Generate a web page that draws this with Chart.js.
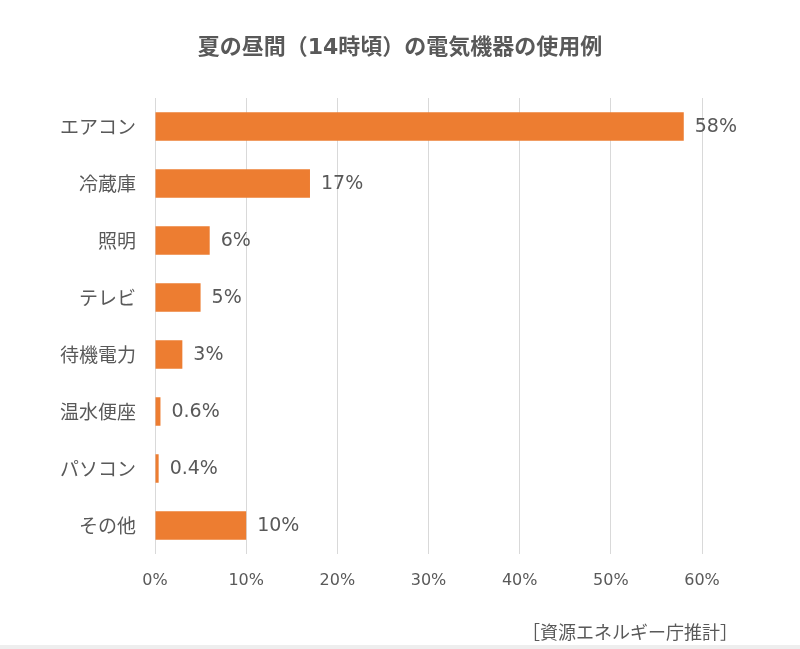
<!DOCTYPE html>
<html>
<head>
<meta charset="utf-8">
<script src="https://cdn.jsdelivr.net/npm/chart.js@4.4.1/dist/chart.umd.min.js"></script>
<style>
  html, body { margin: 0; padding: 0; background: #fff; }
  body { width: 800px; height: 649px; position: relative; overflow: hidden;
         font-family: "Noto Sans CJK JP", "Noto Sans", sans-serif; }
  #wrap { position: absolute; left: 0; top: 0; width: 800px; height: 645px; }
  #source { position: absolute; right: 62px; top: 618px; font-size: 18px; color: #595959; }
  #band { position: absolute; left: 0; top: 645px; width: 800px; height: 4px; background: #eeeeee; }
</style>
</head>
<body>
<div id="wrap"><canvas id="myChart"></canvas></div>
<div id="source">［資源エネルギー庁推計］</div>
<div id="band"></div>

<script>
  const chartTitle = "夏の昼間（14時頃）の電気機器の使用例";
  const categories = ["エアコン", "冷蔵庫", "照明", "テレビ", "待機電力", "温水便座", "パソコン", "その他"];
  const usage = [58, 17, 6, 5, 3, 0.6, 0.4, 10];
  const xTicks = [0, 10, 20, 30, 40, 50, 60];

  const textColor = "#595959";
  const cjkFont = '"Noto Sans CJK JP", "Noto Sans", sans-serif';
  const numFont = '"DejaVu Sans", "Noto Sans CJK JP", sans-serif';

  // title centred on the whole canvas, value labels after each bar
  const extras = {
    id: "extras",
    afterDraw(chart) {
      const ctx = chart.ctx;
      ctx.save();
      ctx.fillStyle = textColor;
      ctx.textBaseline = "middle";

      ctx.font = "bold 22px " + numFont;
      ctx.textAlign = "center";
      ctx.fillText(chartTitle, chart.width / 2, 48);

      ctx.font = "19px " + numFont;
      ctx.textAlign = "left";
      chart.getDatasetMeta(0).data.forEach((bar, i) => {
        ctx.fillText(usage[i] + "%", bar.x + 11, bar.y + 1);
      });
      ctx.restore();
    }
  };

  Chart.defaults.font.family = cjkFont;
  Chart.defaults.color = textColor;

  new Chart("myChart", {
    type: "bar",
    data: {
      labels: categories,
      datasets: [{
        data: usage,
        backgroundColor: "#ED7D31",
        borderWidth: 0,
        categoryPercentage: 1.0,
        barPercentage: 0.5
      }]
    },
    options: {
      indexAxis: "y",
      responsive: true,
      maintainAspectRatio: false,
      animation: false,
      layout: { padding: { left: 0, right: 98, top: 98, bottom: 41 } },
      plugins: {
        legend: { display: false },
        tooltip: { enabled: false },
        title: { display: false }
      },
      scales: {
        x: {
          min: 0,
          max: 60,
          afterBuildTicks: (scale) => { scale.ticks = xTicks.map(v => ({ value: v })); },
          grid: { color: "#D9D9D9", drawTicks: false },
          border: { display: false },
          ticks: {
            padding: 17,
            font: { size: 16, family: numFont },
            color: textColor,
            callback: (v) => v + "%"
          },
          afterFit: (scale) => { scale.height = 50; }
        },
        y: {
          grid: { display: false, drawTicks: false },
          border: { display: false },
          ticks: { padding: 19, font: { size: 19 }, color: textColor },
          afterFit: (scale) => { scale.width = 155; }
        }
      }
    },
    plugins: [extras]
  });
</script>
</body>
</html>
